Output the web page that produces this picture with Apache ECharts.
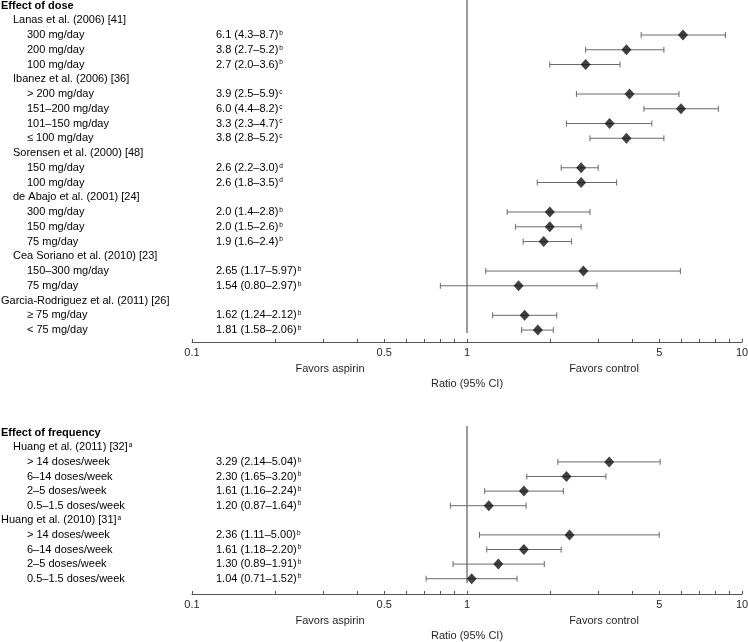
<!DOCTYPE html>
<html>
<head>
<meta charset="utf-8">
<script src="https://cdn.jsdelivr.net/npm/echarts@6/dist/echarts.min.js"></script>
<style>
html, body { margin: 0; padding: 0; background: #fff; }
#chart { width: 748px; height: 642px; }
</style>
</head>
<body>
<div id="chart"></div>
<script>
// ---- data: effect of dose ----
const doseRows = ['Effect of dose', 'Lanas et al. (2006) [41]', '300 mg/day', '200 mg/day', '100 mg/day',
  'Ibanez et al. (2006) [36]', '> 200 mg/day', '151–200 mg/day', '101–150 mg/day', '≤ 100 mg/day',
  'Sorensen et al. (2000) [48]', '150 mg/day', '100 mg/day',
  'de Abajo et al. (2001) [24]', '300 mg/day', '150 mg/day', '75 mg/day',
  'Cea Soriano et al. (2010) [23]', '150–300 mg/day', '75 mg/day',
  'Garcia-Rodriguez et al. (2011) [26]', '≥ 75 mg/day', '< 75 mg/day'];
const doseLevel = [0, 1, 2, 2, 2, 1, 2, 2, 2, 2, 1, 2, 2, 1, 2, 2, 2, 1, 2, 2, 0, 2, 2];
const doseEst  = [null, null, 6.1, 3.8, 2.7, null, 3.9, 6.0, 3.3, 3.8, null, 2.6, 2.6, null, 2.0, 2.0, 1.9, null, 2.65, 1.54, null, 1.62, 1.81];
const doseLow  = [null, null, 4.3, 2.7, 2.0, null, 2.5, 4.4, 2.3, 2.8, null, 2.2, 1.8, null, 1.4, 1.5, 1.6, null, 1.17, 0.80, null, 1.24, 1.58];
const doseHigh = [null, null, 8.7, 5.2, 3.6, null, 5.9, 8.2, 4.7, 5.2, null, 3.0, 3.5, null, 2.8, 2.6, 2.4, null, 5.97, 2.97, null, 2.12, 2.06];
const doseDigits = [0, 0, 1, 1, 1, 0, 1, 1, 1, 1, 0, 1, 1, 0, 1, 1, 1, 0, 2, 2, 0, 2, 2];
const doseNote = [null, null, 'b', 'b', 'b', null, 'c', 'c', 'c', 'c', null, 'd', 'd', null, 'b', 'b', 'b', null, 'b', 'b', null, 'b', 'b'];

// ---- data: effect of frequency ----
const freqRows = ['Effect of frequency', 'Huang et al. (2011) [32]', '> 14 doses/week', '6–14 doses/week', '2–5 doses/week', '0.5–1.5 doses/week',
  'Huang et al. (2010) [31]', '> 14 doses/week', '6–14 doses/week', '2–5 doses/week', '0.5–1.5 doses/week'];
const freqLevel = [0, 1, 2, 2, 2, 2, 0, 2, 2, 2, 2];
const freqEst  = [null, null, 3.29, 2.30, 1.61, 1.20, null, 2.36, 1.61, 1.30, 1.04];
const freqLow  = [null, null, 2.14, 1.65, 1.16, 0.87, null, 1.11, 1.18, 0.89, 0.71];
const freqHigh = [null, null, 5.04, 3.20, 2.24, 1.64, null, 5.00, 2.20, 1.91, 1.52];
const freqDigits = [0, 0, 2, 2, 2, 2, 0, 2, 2, 2, 2];
const freqNote = [null, 'a', 'b', 'b', 'b', 'b', 'a', 'b', 'b', 'b', 'b'];

// axis ticks
const tickValues = [0.1, 0.2, 0.3, 0.4, 0.5, 0.6, 0.7, 0.8, 0.9, 1, 2, 3, 4, 5, 6, 7, 8, 9, 10];
const labelValues = [0.1, 0.5, 1, 5, 10];

const FONT = '"Liberation Sans", Arial, sans-serif';
const TXT = '#231f20';
const indentX = [1, 13, 27];
const valueX = 216;

const chart = echarts.init(document.getElementById('chart'));

function rowText(name, note) {
  let s = '{t|' + name + '}';
  if (note) s += '{s|' + note + '}';
  return s;
}

function panel(gi, rows, level, est, low, high, digits, note, refEnd, yMin) {
  const ciData = [];
  const ptData = [];
  rows.forEach((r, i) => {
    if (est[i] != null) {
      ciData.push([low[i], high[i], i]);
      ptData.push([est[i], i]);
    }
  });
  const textData = rows.map((r, i) => [1, i]);
  return [
    {
      type: 'line', xAxisIndex: gi, yAxisIndex: gi, silent: true, symbol: 'none',
      data: [[1, yMin], [1, refEnd]],
      lineStyle: { color: '#3a3a3a', width: 1 }, z: 1
    },
    {
      type: 'custom', xAxisIndex: gi, yAxisIndex: gi, silent: true,
      encode: { x: [0, 1], y: 2 },
      data: ciData,
      renderItem: function (params, api) {
        const a = api.coord([api.value(0), api.value(2)]);
        const b = api.coord([api.value(1), api.value(2)]);
        const st = { stroke: '#6a6a6a', lineWidth: 1 };
        return {
          type: 'group', children: [
            { type: 'line', shape: { x1: a[0], y1: a[1], x2: b[0], y2: b[1] }, style: st },
            { type: 'line', shape: { x1: a[0], y1: a[1] - 3, x2: a[0], y2: a[1] + 3 }, style: st },
            { type: 'line', shape: { x1: b[0], y1: b[1] - 3, x2: b[0], y2: b[1] + 3 }, style: st }
          ]
        };
      }, z: 2
    },
    {
      type: 'scatter', xAxisIndex: gi, yAxisIndex: gi, silent: true,
      symbol: 'diamond', symbolSize: [10, 11],
      itemStyle: { color: '#111' },
      data: ptData, z: 3
    },
    {
      type: 'custom', xAxisIndex: gi, yAxisIndex: gi, silent: true, clip: false,
      encode: { x: 0, y: 1 },
      data: textData,
      renderItem: function (params, api) {
        const i = api.value(1);
        const y = api.coord([1, i])[1];
        const lv = level[i];
        const rich = {
          t: { fontSize: 11, fontFamily: FONT, color: TXT, fontWeight: i === 0 ? 'bold' : 'normal' },
          s: { fontSize: 6.5, fontFamily: FONT, color: TXT, verticalAlign: 'top', padding: [0, 0, 4, 1] }
        };
        const kids = [{
          type: 'text', x: indentX[lv], y: y,
          style: { text: rowText(rows[i], est[i] == null ? note[i] : null), rich: rich, verticalAlign: 'middle', align: 'left' }
        }];
        if (est[i] != null) {
          const d = digits[i];
          const v = est[i].toFixed(d) + ' (' + low[i].toFixed(d) + '–' + high[i].toFixed(d) + ')';
          kids.push({
            type: 'text', x: valueX, y: y,
            style: { text: rowText(v, note[i]), rich: rich, verticalAlign: 'middle', align: 'left' }
          });
        }
        return { type: 'group', children: kids };
      }
    }
  ];
}

function xAxisFor(gi) {
  return {
    type: 'log', logBase: 10, min: 0.1, max: 10, gridIndex: gi, position: 'bottom',
    name: 'Ratio (95% CI)', nameLocation: 'middle', nameGap: 36,
    nameTextStyle: { fontSize: 11, fontFamily: FONT, color: TXT },
    axisLine: { onZero: false, lineStyle: { color: '#555', width: 1 } },
    axisTick: { inside: true, length: 3, customValues: tickValues, lineStyle: { color: '#555' } },
    minorTick: { show: false },
    splitLine: { show: false },
    axisLabel: { customValues: labelValues, margin: 5, fontSize: 11, fontFamily: FONT, color: TXT,
      formatter: v => String(+v.toPrecision(3)) }
  };
}

const topMin = -0.373, topMax = 22.81;
const botMin = -0.459, botMax = 11.048;

chart.setOption({
  animation: false,
  grid: [
    { left: 192, right: 6, top: 0, height: 342, outerBoundsMode: 'none', containLabel: false },
    { left: 192, right: 6, top: 426, height: 168, outerBoundsMode: 'none', containLabel: false }
  ],
  xAxis: [xAxisFor(0), xAxisFor(1)],
  yAxis: [
    { type: 'value', gridIndex: 0, inverse: true, min: topMin, max: topMax, show: false },
    { type: 'value', gridIndex: 1, inverse: true, min: botMin, max: botMax, show: false }
  ],
  graphic: [
    { type: 'text', x: 330, y: 369, style: { text: 'Favors aspirin', fontSize: 11, fontFamily: FONT, fill: TXT, align: 'center', verticalAlign: 'middle' } },
    { type: 'text', x: 604, y: 369, style: { text: 'Favors control', fontSize: 11, fontFamily: FONT, fill: TXT, align: 'center', verticalAlign: 'middle' } },
    { type: 'text', x: 330, y: 621, style: { text: 'Favors aspirin', fontSize: 11, fontFamily: FONT, fill: TXT, align: 'center', verticalAlign: 'middle' } },
    { type: 'text', x: 604, y: 621, style: { text: 'Favors control', fontSize: 11, fontFamily: FONT, fill: TXT, align: 'center', verticalAlign: 'middle' } }
  ],
  series: [].concat(
    panel(0, doseRows, doseLevel, doseEst, doseLow, doseHigh, doseDigits, doseNote, 22.2, topMin),
    panel(1, freqRows, freqLevel, freqEst, freqLow, freqHigh, freqDigits, freqNote, 10.3, botMin)
  )
});
</script>
</body>
</html>
